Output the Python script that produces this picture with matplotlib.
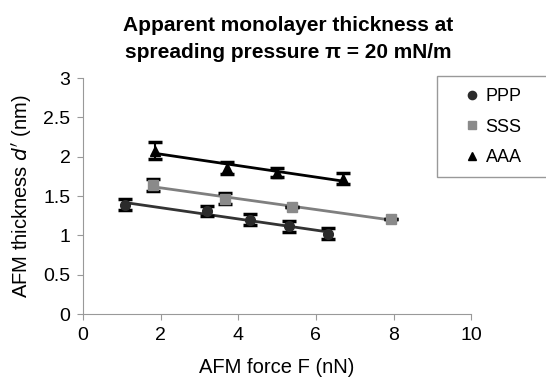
import numpy as np
import matplotlib
matplotlib.use("Agg")
import matplotlib.pyplot as plt
from matplotlib.patches import Rectangle

plt.rcParams['font.family'] = ['Liberation Sans', 'DejaVu Sans']

# data
ppp_x = [1.07, 3.2, 4.3, 5.3, 6.3]
ppp_y = [1.39, 1.31, 1.20, 1.12, 1.02]
ppp_err = [0.07, 0.06, 0.07, 0.07, 0.07]

sss_x = [1.8, 3.65, 5.38, 7.94]
sss_y = [1.64, 1.47, 1.36, 1.21]
sss_err = [0.08, 0.07, 0.0, 0.0]

aaa_x = [1.85, 3.72, 4.99, 6.7]
aaa_y = [2.08, 1.86, 1.80, 1.72]
aaa_err = [0.11, 0.08, 0.06, 0.07]

series = [
    ('PPP', ppp_x, ppp_y, ppp_err, 'o', '#2b2b2b', '#333333'),
    ('SSS', sss_x, sss_y, sss_err, 's', '#8a8a8a', '#7f7f7f'),
    ('AAA', aaa_x, aaa_y, aaa_err, '^', '#000000', '#000000'),
]

fig = plt.figure(figsize=(5.46, 3.85), dpi=100)
ax = fig.add_axes([0.152, 0.184, 0.711, 0.613])

handles = []
for name, x, y, err, mk, mc, lc in series:
    x = np.array(x)
    y = np.array(y)
    # linear trend line over the data range
    k, b = np.polyfit(x, y, 1)
    xs = np.array([x.min(), x.max()])
    ax.plot(xs, k * xs + b, color=lc, lw=2, zorder=2)
    ax.errorbar(x, y, yerr=err, fmt='none', ecolor='black', elinewidth=1.5,
                capsize=5, capthick=2.5, zorder=3)
    h, = ax.plot(x, y, ls='none', marker=mk, ms=7, color=mc, mec=mc, zorder=4)
    handles.append(h)

ax.set_xlim(0, 10)
ax.set_ylim(0, 3)
ax.set_xticks([0, 2, 4, 6, 8, 10])
ax.set_yticks([0, 0.5, 1, 1.5, 2, 2.5, 3])
ax.set_yticklabels(['0', '0.5', '1', '1.5', '2', '2.5', '3'])
for s in ['top', 'right']:
    ax.spines[s].set_visible(False)
for s in ['left', 'bottom']:
    ax.spines[s].set_color('#999999')
ax.tick_params(colors='#999999', labelcolor='black', labelsize=14, length=4,
               direction='out', pad=5)

ax.set_xlabel('AFM force F (nN)', fontsize=14.5, labelpad=10)
ax.set_ylabel("AFM thickness $\\mathit{d'}$ (nm)", fontsize=14.5, labelpad=7)

fig.text(0.528, 0.933, 'Apparent monolayer thickness at', ha='center', va='center',
         fontsize=15, fontweight='bold')
fig.text(0.528, 0.863, 'spreading pressure \u03c0 = 20 mN/m', ha='center', va='center',
         fontsize=15, fontweight='bold')

# legend box runs off the right edge like the original
fig.patches.append(Rectangle((437 / 546, 1 - 177 / 385), 0.25, 101 / 385,
                             transform=fig.transFigure, facecolor='white',
                             edgecolor='#999999', lw=1, zorder=5))
leg = fig.legend(handles, ['PPP', 'SSS', 'AAA'], loc='upper left',
                 bbox_to_anchor=(0.835, 0.790), frameon=False,
                 fontsize=13, handletextpad=0.25, handlelength=1.0,
                 labelspacing=0.75, borderpad=0.4, borderaxespad=0,
                 markerscale=0.85)
leg.set_zorder(6)

fig.savefig('out.png', dpi=100)
